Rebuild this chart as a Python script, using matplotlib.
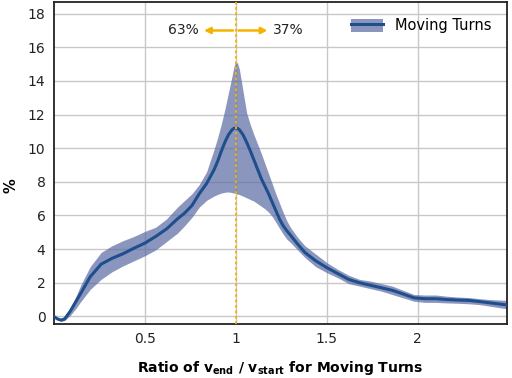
import matplotlib
matplotlib.use("Agg")
import matplotlib.pyplot as plt
from matplotlib.patches import Patch
from matplotlib.lines import Line2D

ratio = [0, 0.02, 0.04, 0.06, 0.09, 0.12, 0.15, 0.2, 0.26, 0.32, 0.38, 0.44, 0.5, 0.56,
         0.62, 0.68, 0.72, 0.76, 0.8, 0.84,
         0.88, 0.9, 0.92, 0.94, 0.96, 0.98, 0.99, 1.0, 1.01, 1.02, 1.04, 1.06, 1.08,
         1.1, 1.12, 1.14, 1.16, 1.18, 1.2, 1.22, 1.24, 1.26, 1.28, 1.3,
         1.34, 1.38, 1.44, 1.5, 1.56, 1.62, 1.68, 1.74, 1.8, 1.86, 1.92,
         1.98, 2.04, 2.1, 2.16, 2.22, 2.28, 2.34, 2.4, 2.49]
mean = [0.0, -0.15, -0.22, -0.15, 0.3, 0.85, 1.4, 2.35, 3.1, 3.45, 3.72, 4.05, 4.35, 4.75,
        5.2, 5.8, 6.15, 6.6, 7.3, 7.9,
        8.7, 9.2, 9.8, 10.35, 10.8, 11.1, 11.18, 11.2, 11.18, 11.1, 10.8, 10.35, 9.85,
        9.3, 8.75, 8.2, 7.75, 7.3, 6.8, 6.3, 5.8, 5.4, 5.1, 4.84,
        4.3, 3.8, 3.3, 2.9, 2.55, 2.2, 2.0, 1.85, 1.7, 1.55, 1.33,
        1.1, 1.05, 1.05, 1.0, 0.97, 0.95, 0.88, 0.8, 0.68]
upper = [0.05, -0.08, -0.15, -0.05, 0.45, 1.15, 1.9, 2.95, 3.8, 4.2, 4.5, 4.75, 5.05, 5.3,
         5.8, 6.5, 6.9, 7.3, 7.85, 8.6,
         9.9, 10.6, 11.4, 12.3, 13.3, 14.3, 14.85, 15.15, 15.05, 14.7, 13.4, 12.1, 11.4,
         10.8, 10.25, 9.7, 9.1, 8.5, 7.9, 7.3, 6.75, 6.2, 5.7, 5.3,
         4.7, 4.2, 3.7, 3.2, 2.8, 2.45, 2.2, 2.1, 1.95, 1.8, 1.55,
         1.3, 1.27, 1.27, 1.2, 1.15, 1.12, 1.05, 1.0, 0.95]
lower = [-0.05, -0.22, -0.3, -0.25, 0.05, 0.45, 0.9, 1.6, 2.2, 2.65, 3.0, 3.3, 3.6, 3.95,
         4.45, 4.95, 5.4, 5.9, 6.5, 6.9,
         7.15, 7.25, 7.33, 7.38, 7.4, 7.36, 7.33, 7.3, 7.27, 7.24, 7.15, 7.05, 6.95,
         6.85, 6.7, 6.55, 6.4, 6.2, 5.95, 5.6, 5.25, 4.9, 4.6, 4.4,
         3.95, 3.5, 2.95, 2.6, 2.3, 1.95, 1.8, 1.65, 1.5, 1.3, 1.1,
         0.9, 0.83, 0.83, 0.8, 0.78, 0.75, 0.7, 0.6, 0.45]

xticks = [0.5, 1, 1.5, 2]
xtick_labels = ["0.5", "1", "1.5", "2"]
yticks = [0, 2, 4, 6, 8, 10, 12, 14, 16, 18]
split_left = "63%"
split_right = "37%"
series_name = "Moving Turns"

plt.rcParams['font.family'] = ['DejaVu Sans']

fig = plt.figure(figsize=(5.12, 3.78), dpi=100)
ax = fig.add_axes([0.105, 0.143, 0.885, 0.852])

fill_color = "#5a6aa4"
line_color = "#1f4e8c"
orange = "#f5b300"

ax.fill_between(ratio, lower, upper, color=fill_color, alpha=0.7, linewidth=0, zorder=2)
ax.plot(ratio, mean, color=line_color, lw=2.2, zorder=3, solid_joinstyle="round")

ax.axvline(1.0, color=orange, lw=1.3, ls=(0, (1.5, 1.5)), zorder=4)
ax.annotate("", xy=(0.81, 17.0), xytext=(1.0, 17.0),
            arrowprops=dict(arrowstyle="-|>", color=orange, lw=1.8, mutation_scale=9), zorder=5)
ax.annotate("", xy=(1.19, 17.0), xytext=(1.0, 17.0),
            arrowprops=dict(arrowstyle="-|>", color=orange, lw=1.8, mutation_scale=9), zorder=5)
ax.text(0.795, 17.0, split_left, ha="right", va="center", fontsize=10, color="#222222")
ax.text(1.205, 17.0, split_right, ha="left", va="center", fontsize=10, color="#222222")

ax.set_xlim(0.0, 2.49)
ax.set_ylim(-0.45, 18.7)
ax.set_xticks(xticks)
ax.set_xticklabels(xtick_labels)
ax.set_yticks(yticks)
ax.tick_params(axis='both', length=0, labelsize=10, pad=6, colors="#222222")
ax.grid(True, color="#c8c8c8", lw=1.0, zorder=0)
ax.set_axisbelow(True)
for s in ax.spines.values():
    s.set_color("#222222")
    s.set_linewidth(1.3)

ax.set_xlabel(r"Ratio of v$_{\mathregular{end}}$ / v$_{\mathregular{start}}$ for Moving Turns",
              fontsize=10, fontweight="bold", labelpad=9)
ax.set_ylabel("%", fontsize=10.5, fontweight="bold", va="center")
ax.yaxis.set_label_coords(-0.094, 0.43)

handle = (Patch(facecolor=fill_color, alpha=0.7, edgecolor="none"),
          Line2D([], [], color=line_color, lw=2.2))
ax.legend([handle], [series_name], loc="upper right", frameon=False, fontsize=10.5,
          handlelength=2.2, handleheight=1.0, bbox_to_anchor=(0.995, 0.99))

fig.savefig("out.png", dpi=100)
